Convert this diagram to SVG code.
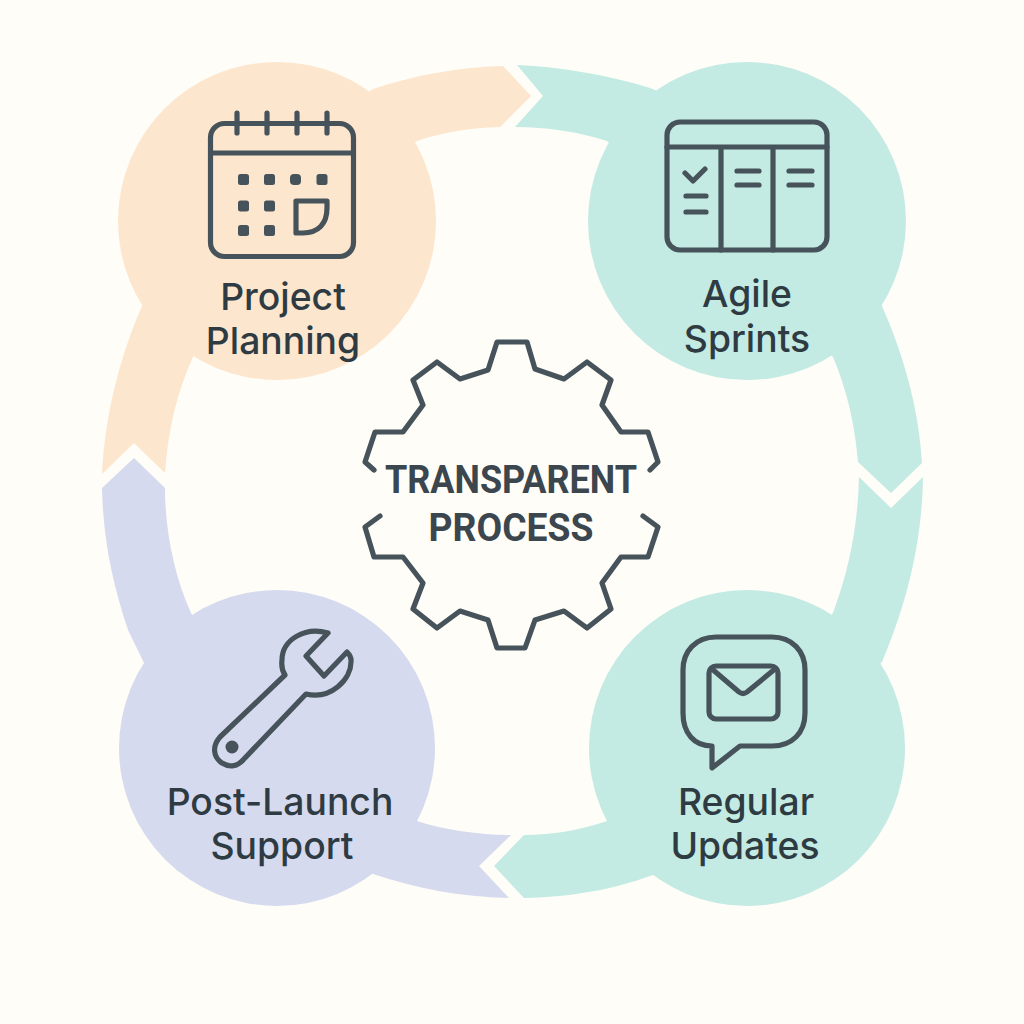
<svg xmlns="http://www.w3.org/2000/svg" width="1024" height="1024" viewBox="0 0 1024 1024">
<style>
.ic{fill:none;stroke:#47535b;stroke-width:5.2;stroke-linecap:round;stroke-linejoin:round}
.dot{fill:#47535b}
.lb{font-family:"Inter","Liberation Sans",sans-serif;font-size:37.3px;font-weight:500;fill:#2f3b42;text-anchor:middle}
.ct{font-family:"Roboto","Liberation Sans",sans-serif;font-size:39px;font-weight:700;fill:#3b464e;text-anchor:middle}
.or{fill:#fde6ce}.gr{fill:#c3ebe3}.pu{fill:#d6daee}
</style>
<rect width="1024" height="1024" fill="#fffdf7"/>
<g id="connectors">
<path class="or" d="M340 110L373 89C415 75 460 67 503 66L531 96L500 127C470 128 443 132 417 141L380 170Z"/>
<path class="gr" d="M517 65C562 67 608 75 650 88L680 100L640 170L607 141C578 132 548 127 515 127L543 96Z"/>
<path class="gr" d="M881 304C904 355 919 410 922 463L891 493L858 462C855 425 847 390 833 357L800 320Z"/>
<path class="gr" d="M923 477C922 545 906 605 882 662L860 680L810 640L833 613C849 570 858 525 859 477L891 508Z"/>
<path class="gr" d="M607 821C580 830 552 835 524 835L494 866L524 898C575 897 625 888 670 868L660 800Z"/>
<path class="pu" d="M417 821C445 830 478 835 511 835L479 866L509 898C460 897 415 888 373 874L340 850L390 800Z"/>
<path class="or" d="M143 304C120 355 105 415 102 474L134 443L165 473C168 430 177 392 193 357L220 320L170 280Z"/>
<path class="pu" d="M102 488C103 540 113 585 128 630L145 665L200 630L191 613C174 575 165 530 165 488L134 458Z"/>
</g>
<g id="node-planning">
<circle class="or" cx="277" cy="221" r="159"/>
<rect class="ic" x="210.500" y="123.500" width="143" height="133" rx="14"/>
<path class="ic" d="M212 153H352M237 113V133M267 113V133M297 113V133M327 113V133"/>
<rect class="dot" x="238" y="174" width="11" height="11" rx="2.500"/><rect class="dot" x="264" y="174" width="11" height="11" rx="2.500"/><rect class="dot" x="290" y="174" width="11" height="11" rx="4"/><rect class="dot" x="316.500" y="174" width="11" height="11" rx="2.500"/>
<rect class="dot" x="238" y="200.500" width="11" height="11" rx="2.500"/><rect class="dot" x="264" y="200.500" width="11" height="11" rx="2.500"/>
<rect class="dot" x="238" y="225" width="11" height="11" rx="2.500"/><rect class="dot" x="264" y="225" width="11" height="11" rx="2.500"/>
<path class="ic" d="M296 201H327V208C327 224 318 233 303 233H296Z"/>
<text class="lb" x="283" y="310">Project</text>
<text class="lb" x="283" y="354">Planning</text>
</g>
<g id="node-sprints">
<circle class="gr" cx="747" cy="221" r="159"/>
<rect class="ic" x="667" y="122" width="160" height="128" rx="13"/>
<path class="ic" d="M667 147H827M721 147V250M773 147V250M685 173L693 181L705 169M686 196H706M686 212H706M737 171H759M737 185H759M789 171H812M789 185H812"/>
<text class="lb" x="747" y="307">Agile</text>
<text class="lb" x="747" y="352">Sprints</text>
</g>
<g id="node-updates">
<circle class="gr" cx="747" cy="748" r="158"/>
<path class="ic" d="M716 637H772C792 637 805 651 805 670V713C805 733 792 746 772 746H740L712 768V746C694 746 683 733 683 713V670C683 651 696 637 716 637Z"/>
<rect class="ic" x="709" y="666" width="69" height="53" rx="7"/>
<path class="ic" d="M712 669L739 692Q743 695 747 692L775 669"/>
<text class="lb" x="746" y="815">Regular</text>
<text class="lb" x="745" y="859">Updates</text>
</g>
<g id="node-support">
<circle class="pu" cx="277" cy="748" r="158"/>
<path class="ic" d="M328 633C305 626 282 640 282 660C281 668 283 672 285 675L220 737C212 746 213 757 222 763C230 768 238 766 243 760L306 694C330 700 352 680 351 660C351 657 349 654 347 652L324 676L306 656Z"/>
<circle class="dot" cx="232" cy="747" r="6.500"/>
<text class="lb" x="280" y="815">Post-Launch</text>
<text class="lb" x="282" y="859">Support</text>
</g>
<g id="node-center">
<path class="ic" d="M374 470L365 462L375 432H403L423 405L413 380L437 362L460 379L488 370L497 342H527L535 369L564 379L587 362L611 380L602 405L621 432H648L658 462L650 470M380 516L365 527L374 557H403L423 583L413 609L437 628L460 611L488 620L497 648H525L535 620L564 611L587 628L611 609L602 583L621 557H648L658 527L643 516"/>
<text class="ct" x="511" y="493" textLength="252" lengthAdjust="spacingAndGlyphs">TRANSPARENT</text>
<text class="ct" x="511" y="541" textLength="165" lengthAdjust="spacingAndGlyphs">PROCESS</text>
</g>
</svg>
